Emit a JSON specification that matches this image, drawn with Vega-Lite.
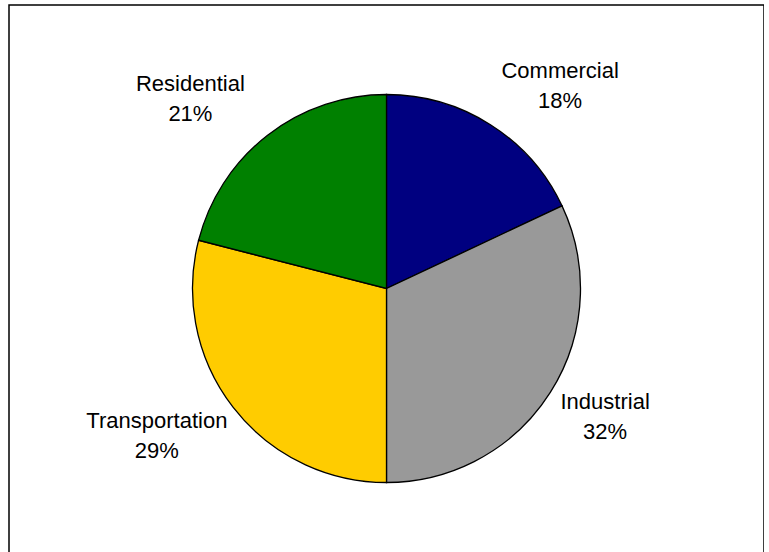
{
  "$schema": "https://vega.github.io/schema/vega-lite/v6.json",
  "width": 755,
  "height": 567,
  "autosize": {"type": "none"},
  "padding": {"left": 9, "top": 5, "right": 0, "bottom": 0},
  "background": "white",
  "config": {"view": {"stroke": null}},
  "data": {
    "values": [
      {"category": "Commercial", "value": 18, "rank": 1},
      {"category": "Industrial", "value": 32, "rank": 2},
      {"category": "Transportation", "value": 29, "rank": 3},
      {"category": "Residential", "value": 21, "rank": 4}
    ]
  },
  "transform": [{"calculate": "[datum.category, datum.value + '%']", "as": "label"}],
  "layer": [
    {
      "data": {"values": [{"frame": "border"}]},
      "mark": {"type": "rect", "fill": null, "fillOpacity": 0, "stroke": "#000000", "strokeWidth": 1.5},
      "encoding": {}
    },
    {
      "mark": {"type": "arc", "outerRadius": 194, "stroke": "#000000", "strokeWidth": 1.3},
      "encoding": {
        "theta": {"field": "value", "type": "quantitative", "stack": true},
        "order": {"field": "rank", "type": "quantitative"},
        "color": {
          "field": "category",
          "type": "nominal",
          "scale": {
            "domain": ["Commercial", "Industrial", "Transportation", "Residential"],
            "range": ["#000080", "#999999", "#FFCC00", "#008000"]
          },
          "legend": null
        }
      }
    },
    {
      "mark": {
        "type": "text",
        "radius": 240,
        "font": "Liberation Sans",
        "fontSize": 22,
        "lineHeight": 30,
        "align": "center",
        "baseline": "middle",
        "fill": "#000000",
        "dy": -15,
        "dx": {"expr": "datum.category === 'Commercial' ? 45 : datum.category === 'Industrial' ? 16 : datum.category === 'Transportation' ? -40 : -49"}
      },
      "encoding": {
        "theta": {"field": "value", "type": "quantitative", "stack": true},
        "order": {"field": "rank", "type": "quantitative"},
        "detail": {"field": "category", "type": "nominal"},
        "text": {"field": "label"}
      }
    }
  ]
}
